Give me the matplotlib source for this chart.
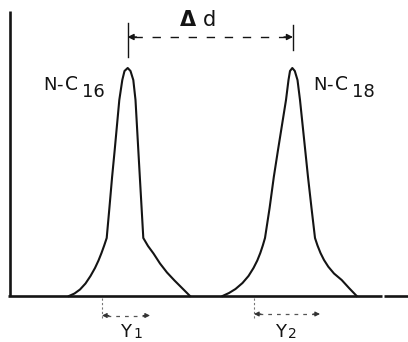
import numpy as np
import matplotlib
matplotlib.use('Agg')
import matplotlib.pyplot as plt

# peak outlines (x position, signal height)
peak1_x = [69, 74.5, 80, 85.5, 90.5, 95, 98.5, 101.5, 104.2, 106.7, 109.4, 112.1,
           114.7, 119.3, 122.3, 124.5, 127.7, 130.5, 133.3, 135.5, 138.3, 140,
           141.6, 143.3, 148, 153.5, 160, 167, 174.5, 182.5, 190]
peak1_y = [0, 2.5, 6.5, 12.5, 20, 28, 35.5, 43, 50.5, 58, 88, 119,
           146, 196, 216, 225, 228, 225, 216, 196, 146, 116,
           88, 58, 50, 42.5, 32.5, 23.5, 15.5, 7.5, 0]
peak2_x = [222.5, 229, 235.5, 242.5, 248.5, 253.5, 257.3, 260.3, 262.8, 265,
           269.6, 273.8, 278, 286, 288.5, 290, 292.3, 294.8, 297.5, 300, 305.2,
           308, 311.5, 315, 317.5, 320.5, 324, 328.3, 334, 341.7, 349, 356.7]
peak2_y = [0, 3, 7, 13, 20, 28, 35.5, 43, 50.5, 58,
           88, 119, 146, 196, 216, 225, 228, 225, 216, 196, 146,
           119, 88, 58, 50.5, 43, 36, 29.3, 22.5, 16, 8, 0]

apex_x = [127.5, 293]
base_w1 = [102, 150]   # Y1 width span
base_w2 = [254, 320]   # Y2 width span
labels = ['16', '18']

fig = plt.figure(figsize=(4.08, 3.42), dpi=100)
ax = fig.add_axes([0, 0, 1, 1])
ax.set_xlim(0, 408)
ax.set_ylim(-46, 296)
ax.axis('off')

lc = '#141414'

# axes of the diagram
ax.plot([10, 10], [0, 285], color=lc, lw=1.9, solid_capstyle='butt')
ax.plot([8, 382], [0, 0], color=lc, lw=1.9, solid_capstyle='butt')
ax.plot([384, 408], [0, 0], color=lc, lw=1.9, solid_capstyle='butt')

# peaks
ax.plot(peak1_x, peak1_y, color=lc, lw=1.5)
ax.plot(peak2_x, peak2_y, color=lc, lw=1.5)

# delta d marker
ax.plot([apex_x[0], apex_x[0]], [239, 273], color=lc, lw=1.0)
ax.plot([apex_x[1], apex_x[1]], [246, 271], color=lc, lw=1.0)
ax.plot([apex_x[0] + 6, apex_x[1] - 6], [259, 259], color=lc, lw=1.0,
        dashes=(6, 7))
ax.annotate('', xy=(apex_x[0], 259), xytext=(apex_x[0] + 9, 259),
            arrowprops=dict(arrowstyle='-|>', color=lc, lw=1.0,
                            mutation_scale=9, shrinkA=0, shrinkB=0))
ax.annotate('', xy=(apex_x[1], 259), xytext=(apex_x[1] - 9, 259),
            arrowprops=dict(arrowstyle='-|>', color=lc, lw=1.0,
                            mutation_scale=9, shrinkA=0, shrinkB=0))
ax.text(188, 270, '\u0394', fontsize=15, ha='center', va='baseline', color=lc,
        fontweight='bold')
ax.text(209.5, 270, 'd', fontsize=15, ha='center', va='baseline', color=lc)


def peak_name(x0, sub):
    # letter-spaced "N-C" with a full size subscript, like the drawing
    ax.text(x0, 206, 'N', fontsize=13, ha='left', va='baseline', color=lc)
    ax.text(x0 + 13.5, 206, '-', fontsize=13, ha='left', va='baseline', color=lc)
    ax.text(x0 + 21.5, 206, 'C', fontsize=13.5, ha='left', va='baseline', color=lc)
    ax.text(x0 + 39.5, 199, sub, fontsize=13, ha='left', va='baseline', color=lc)


peak_name(43, labels[0])
peak_name(313, labels[1])

# widths Y1, Y2
for (a, b), yy in [(base_w1, -19.5), (base_w2, -18)]:
    ax.plot([a, a], [-2, -24], color='#777777', lw=0.8, dashes=(2, 2))
    ax.plot([a + 5, b - 5], [yy, yy], color='#555555', lw=0.9, dashes=(3, 4))
    ax.annotate('', xy=(a, yy), xytext=(a + 7, yy),
                arrowprops=dict(arrowstyle='-|>', color='#333333', lw=0.8,
                                mutation_scale=7, shrinkA=0, shrinkB=0))
    ax.annotate('', xy=(b, yy), xytext=(b - 7, yy),
                arrowprops=dict(arrowstyle='-|>', color='#333333', lw=0.8,
                                mutation_scale=7, shrinkA=0, shrinkB=0))

ax.text(126, -27, 'Y', fontsize=13, ha='center', va='top', color=lc)
ax.text(133, -31, '1', fontsize=10, ha='left', va='top', color=lc)
ax.text(281, -27, 'Y', fontsize=13, ha='center', va='top', color=lc)
ax.text(288, -31, '2', fontsize=10, ha='left', va='top', color=lc)

fig.savefig('out.png', dpi=100)
